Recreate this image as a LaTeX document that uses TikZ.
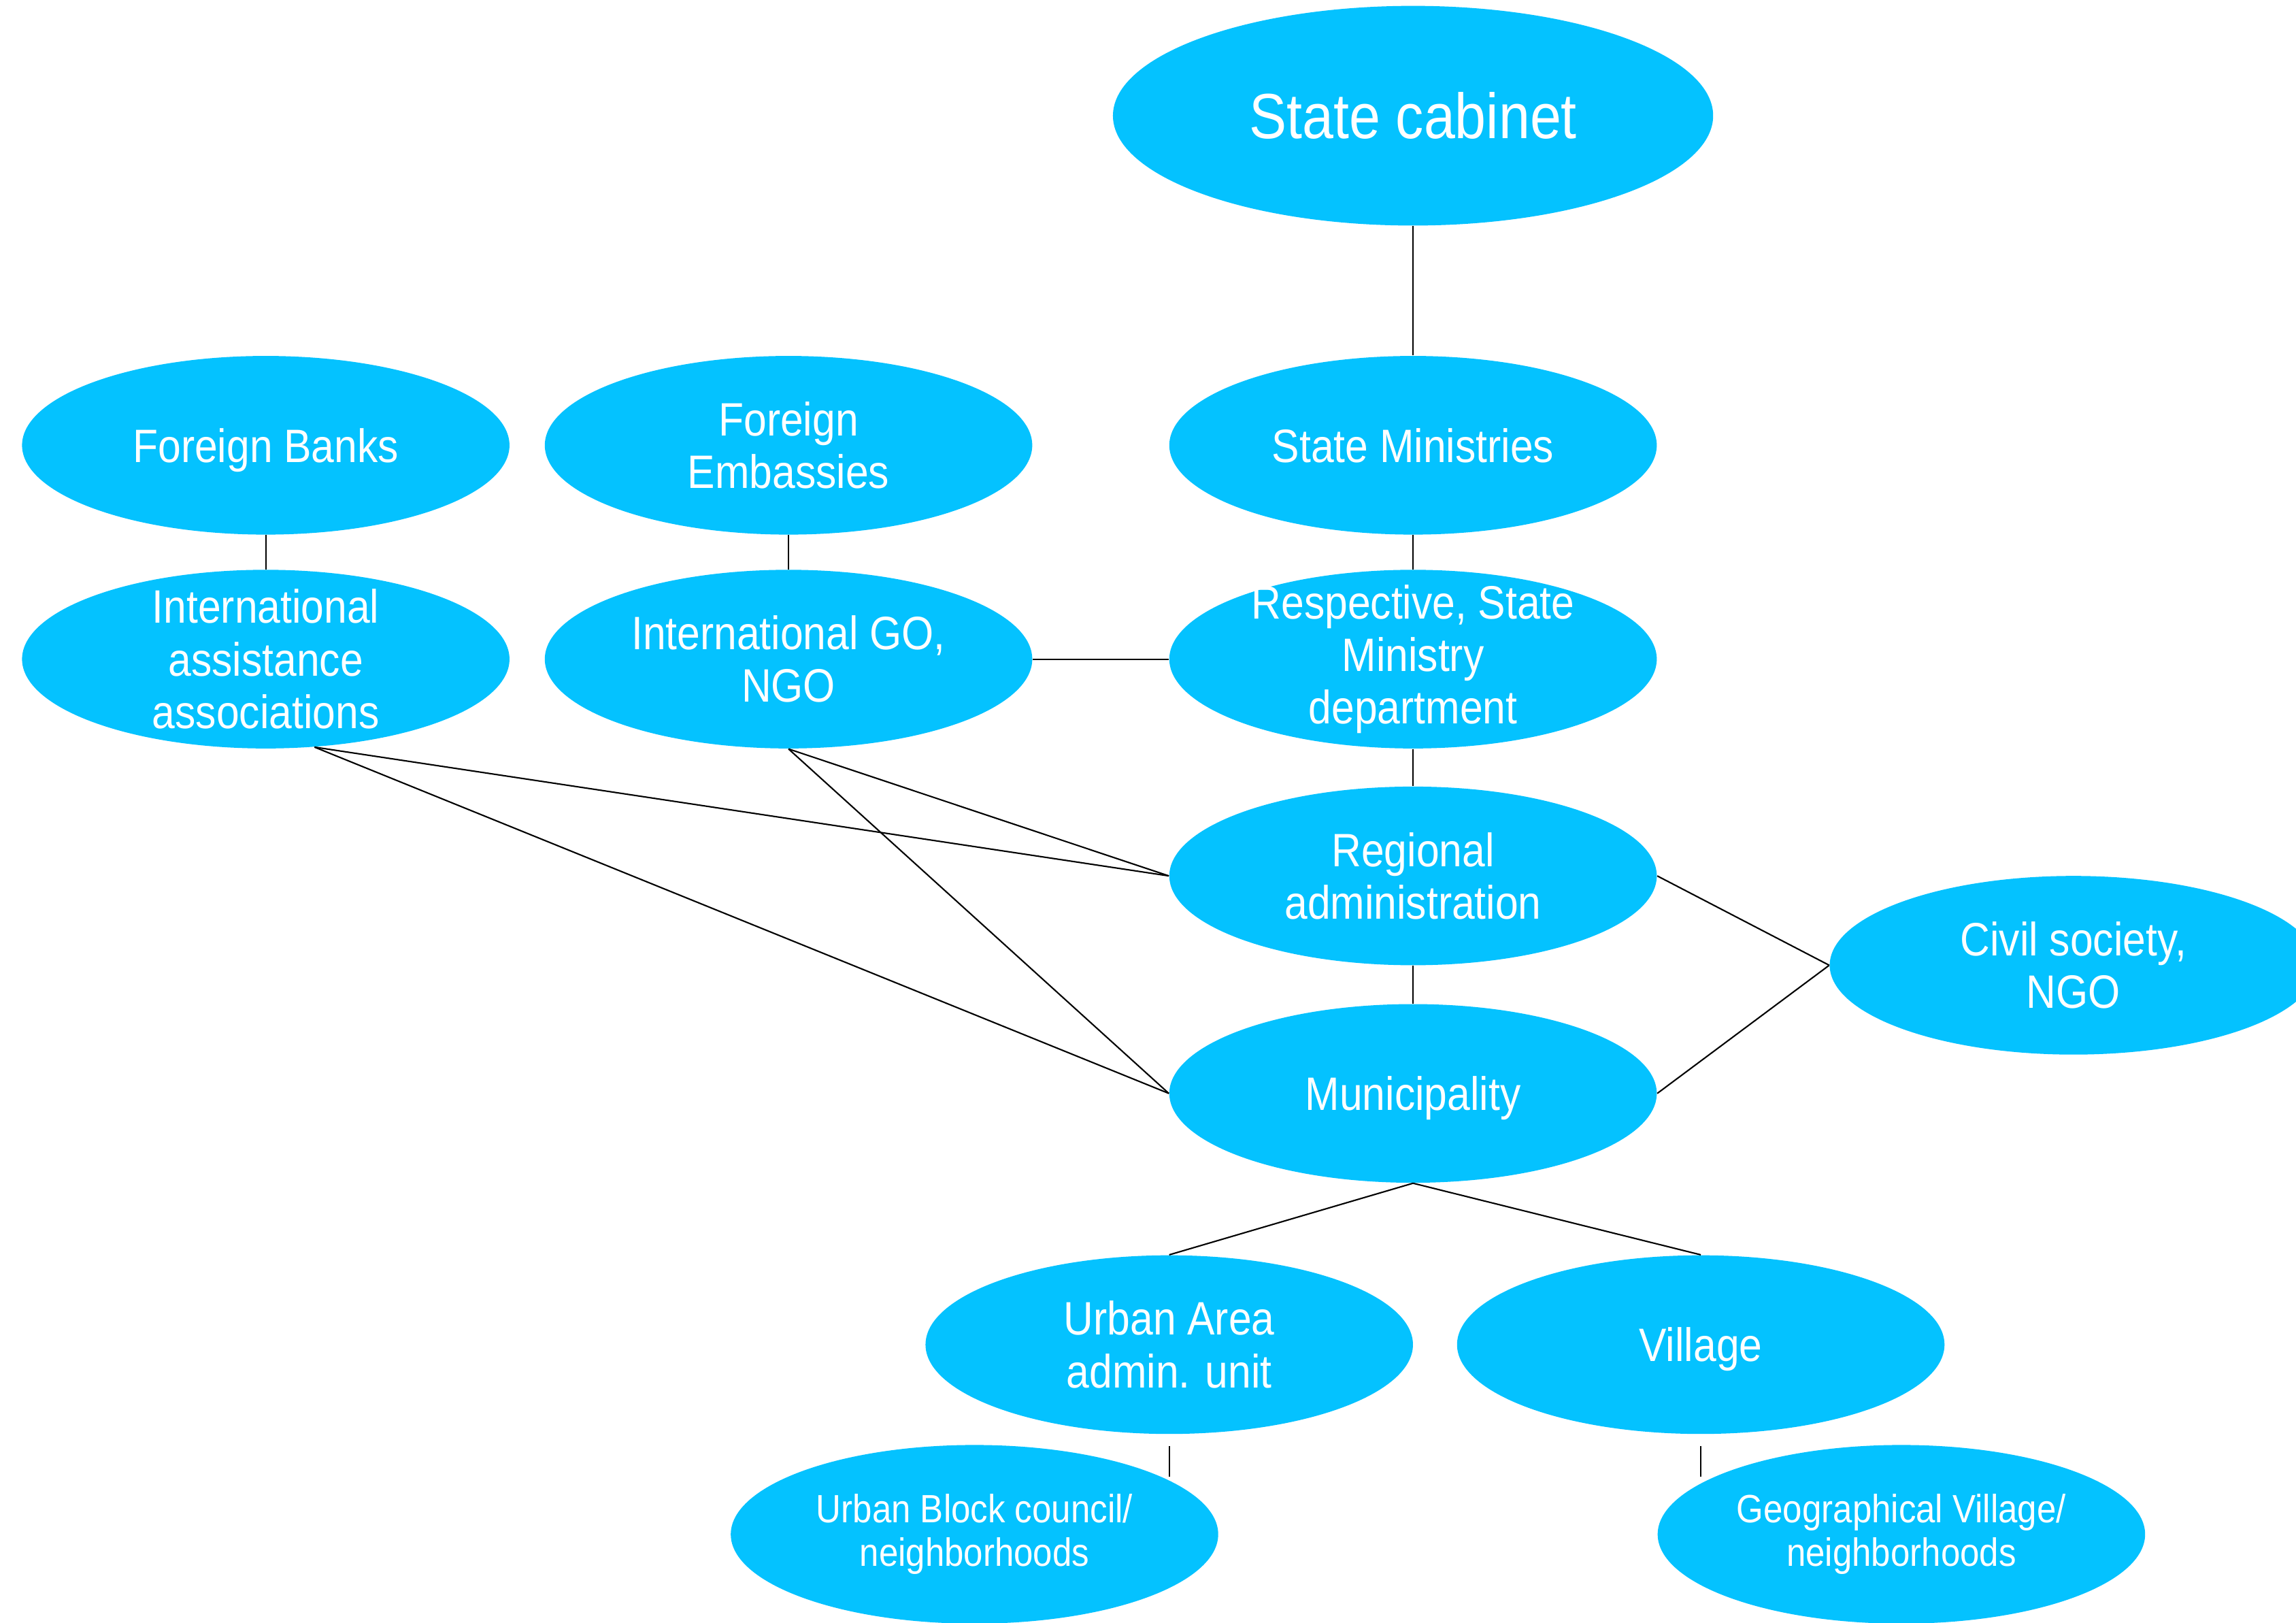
\documentclass[tikz,border=0pt]{standalone}
\usepackage{fontspec}
\setmainfont{Liberation Sans}[FakeStretch=0.88]
\usetikzlibrary{shapes.geometric}
\definecolor{orgblue}{RGB}{4,194,255}
\tikzstyle{org} = [ellipse, fill=orgblue, text=white, inner sep=0pt, minimum width=7.167cm, minimum height=2.626cm, align=center, font=\fontsize{19.6}{22}\selectfont]
\tikzstyle{one} = [org, text depth=0pt]
\tikzstyle{tall} = [org, inner ysep=-0.3cm]
\tikzstyle{top} = [org, minimum width=8.825cm, minimum height=3.229cm, font=\fontsize{26.7}{30}\selectfont]
\tikzstyle{small} = [org, font=\fontsize{16.5}{18.4}\selectfont]
\tikzstyle{link} = [semithick]

\begin{document}
\begin{tikzpicture}[x=0.021524cm, y=-0.021524cm]
	\useasboundingbox (0,0) rectangle (1568,1108);
	\node (cab) [top] at (965,79) {State cabinet};
	\node (min) [one] at (965,304) {State Ministries};
	\node (fb) [one] at (181.5,304) {Foreign Banks};
	\node (fe) [org] at (538.5,304) {Foreign\\Embassies};
	\node (ia) [tall] at (181.5,450) {International\\assistance\\associations};
	\node (igo) [org] at (538.5,450) {International GO,\\NGO};
	\node (dep) [tall] at (965,450) {Respective, State\\Ministry\\department};
	\node (reg) [org] at (965,598) {Regional\\administration};
	\node (civ) [org] at (1416,659) {Civil society,\\NGO};
	\node (mun) [one] at (965,746.5) {Municipality};
	\node (ua) [org] at (798.5,918) {Urban Area\\admin. unit};
	\node (vil) [one] at (1161.5,918) {Village};
	\node (ub) [small] at (665.5,1047.5) {Urban Block council/\\neighborhoods};
	\node (gv) [small] at (1298.5,1047.5) {Geographical Village/\\neighborhoods};
	% stubs under the lowest level
	\path (ua.south) ++(0,8) coordinate (ua1) ++(0,21) coordinate (ua2);
	\path (vil.south) ++(0,8) coordinate (vil1) ++(0,21) coordinate (vil2);
	\draw [link] (cab.south) -- (min.north);
	\draw [link] (min.south) -- (dep.north);
	\draw [link] (fb.south) -- (ia.north);
	\draw [link] (fe.south) -- (igo.north);
	\draw [link] (igo.east) -- (dep.west);
	\draw [link] (dep.south) -- (reg.north);
	\draw [link] (reg.south) -- (mun.north);
	\draw [link] (ia.-61) -- (reg.west);
	\draw [link] (ia.-61) -- (mun.west);
	\draw [link] (igo.south) -- (reg.west);
	\draw [link] (igo.south) -- (mun.west);
	\draw [link] (reg.east) -- (civ.west);
	\draw [link] (mun.east) -- (civ.west);
	\draw [link] (mun.south) -- (ua.north);
	\draw [link] (mun.south) -- (vil.north);
	\draw [link] (ua1) -- (ua2);
	\draw [link] (vil1) -- (vil2);
\end{tikzpicture}
\end{document}
